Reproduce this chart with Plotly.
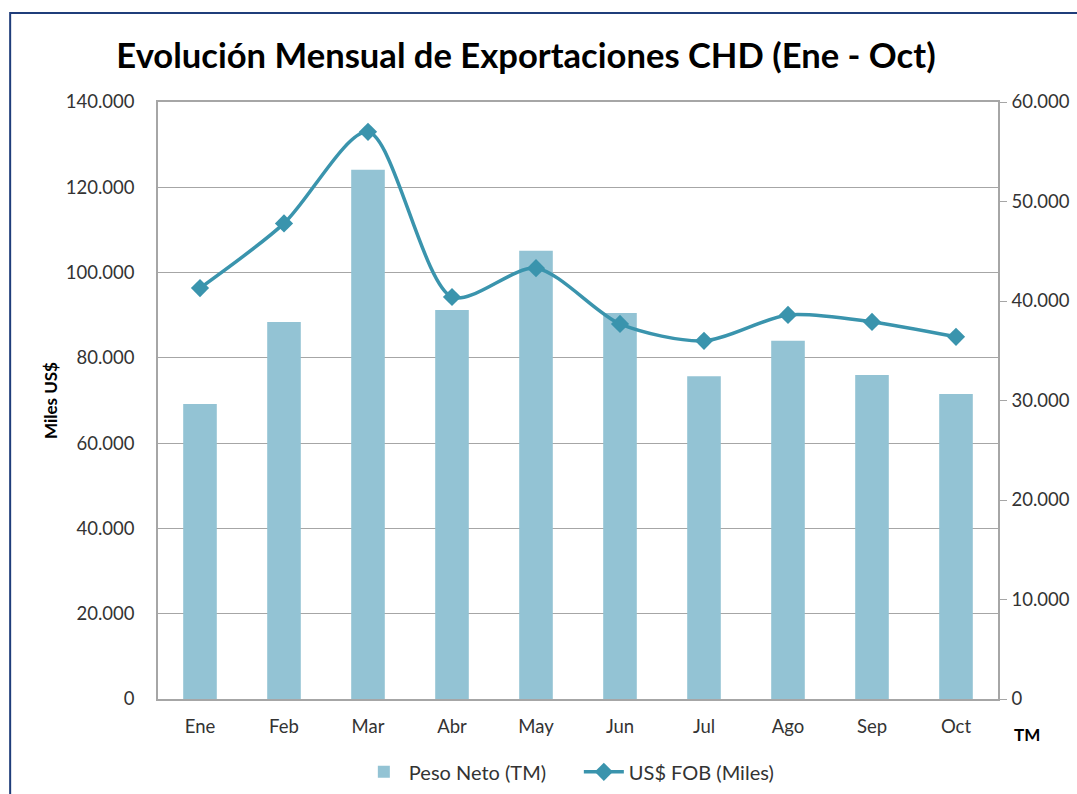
import plotly.graph_objects as go

months = ["Ene", "Feb", "Mar", "Abr", "May", "Jun", "Jul", "Ago", "Sep", "Oct"]
peso_neto = [69200, 88400, 124100, 91200, 105100, 90500, 75700, 84000, 76000, 71500]
fob_miles = [41300, 47800, 57000, 40400, 43300, 37700, 36000, 38600, 37900, 36400]

left_ticks = [0, 20000, 40000, 60000, 80000, 100000, 120000, 140000]
right_ticks = [0, 10000, 20000, 30000, 40000, 50000, 60000]

def fmt(v):
    return "0" if v == 0 else f"{v:,}".replace(",", ".")

FONT = "Lato"
bar_color = "#93C3D4"
line_color = "#3A94AD"

fig = go.Figure()
fig.add_trace(go.Bar(x=months, y=peso_neto, name="Peso Neto (TM)",
                     marker=dict(color=bar_color, line=dict(width=0)),
                     width=0.4, yaxis="y"))
fig.add_trace(go.Scatter(x=months, y=fob_miles, name="US$ FOB (Miles)",
                         mode="lines+markers", yaxis="y2",
                         line=dict(color=line_color, width=3.5, shape="spline", smoothing=0.8),
                         marker=dict(symbol="diamond", size=14, color=line_color)))

fig.update_layout(
    width=1077, height=794,
    margin=dict(l=158, r=79, t=102, b=95, autoexpand=False),
    paper_bgcolor="white", plot_bgcolor="white",
    font=dict(family=FONT, size=18.5, color="#333333"),
    title=dict(text="<b>Evolución Mensual de Exportaciones CHD (Ene - Oct)</b>",
               x=0.4884, xanchor="center", y=0.929, yanchor="middle",
               font=dict(family=FONT, size=34.6, color="black")),
    showlegend=True,
    legend=dict(orientation="h", x=0.501, xanchor="center", y=-0.122, yanchor="middle",
                font=dict(family=FONT, size=20, color="#333333"), itemwidth=40,
                entrywidth=165, traceorder="normal"),
    bargap=0.6,
    xaxis=dict(range=[-0.5, len(months) - 0.5],
               showline=True, linecolor="#A6A6A6", linewidth=1.5, mirror=True,
               ticks="", ticklabelstandoff=10, tickfont=dict(size=18.5), automargin=False),
    yaxis=dict(range=[0, 140000], tickvals=left_ticks, ticktext=[fmt(v) for v in left_ticks],
               showgrid=True, gridcolor="#A6A6A6", gridwidth=1,
               showline=True, linecolor="#A6A6A6", linewidth=1.5,
               ticks="", ticklabelstandoff=18, zeroline=False, automargin=False,
               title=dict(text="<b>Miles US$</b>", standoff=4,
                          font=dict(family=FONT, size=17, color="black"))),
    yaxis2=dict(range=[0, 60000], tickvals=right_ticks, ticktext=[fmt(v) for v in right_ticks],
                overlaying="y", side="right", showgrid=False,
                showline=True, linecolor="#A6A6A6", linewidth=1.5,
                ticks="outside", ticklen=7, tickcolor="#A6A6A6", ticklabelstandoff=1,
                zeroline=False, automargin=False),
)

fig.add_annotation(text="<b>TM</b>", xref="paper", yref="paper", x=1.035, y=-0.06,
                   xanchor="center", yanchor="middle", showarrow=False,
                   font=dict(family=FONT, size=17, color="black"))

# outer chart frame
fig.add_shape(type="rect", xref="paper", yref="paper",
              x0=-0.176, y0=-0.3, x1=1.2, y1=1.149,
              line=dict(color="#1F3D7A", width=2), fillcolor="rgba(0,0,0,0)", layer="below")

fig.write_html("out.html", config={"displayModeBar": False},
               post_script="document.body.style.margin='0';document.body.style.overflow='hidden';")
